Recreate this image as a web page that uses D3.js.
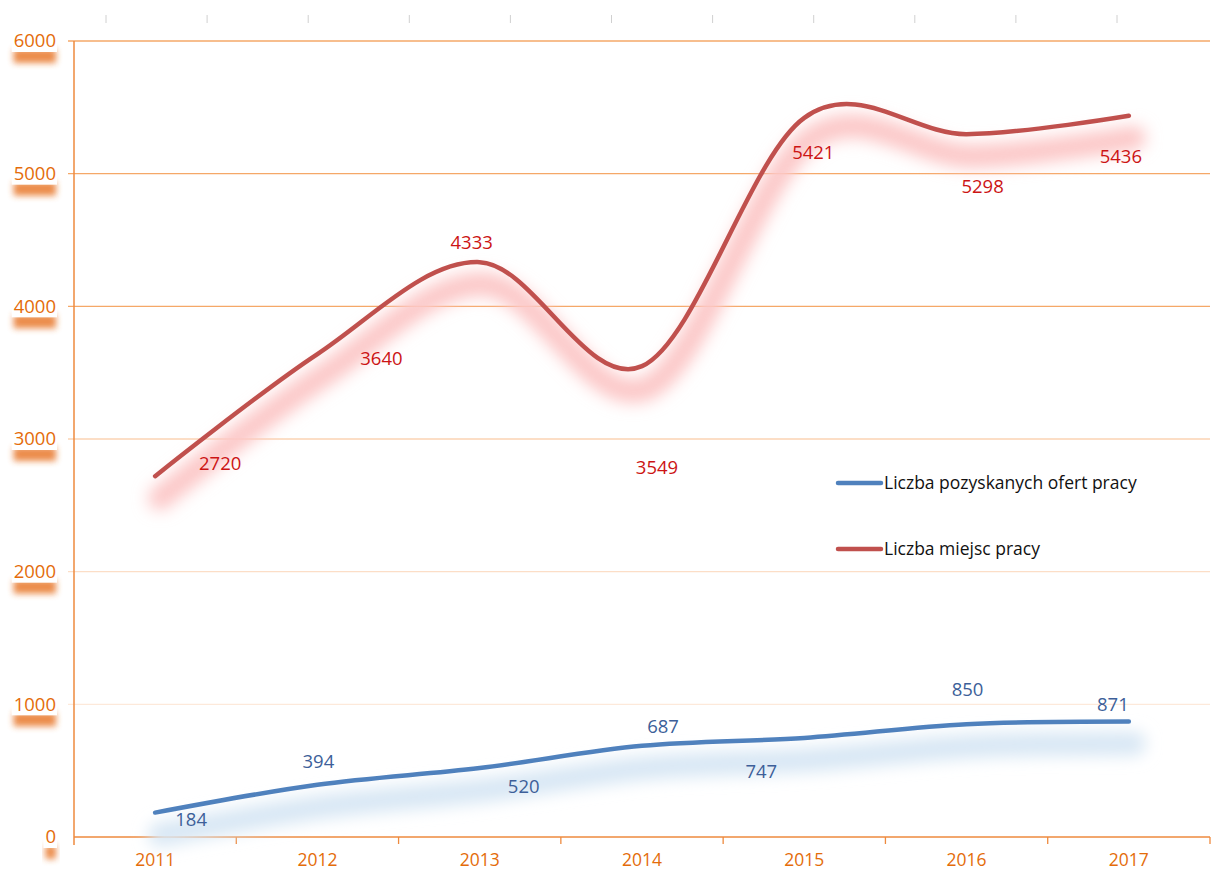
<!DOCTYPE html>
<html>
<head>
<meta charset="utf-8">
<script src="https://cdn.jsdelivr.net/npm/d3@7"></script>
<style>
  body { margin: 0; background: #fff; }
  text { font-family: "Open Sans", sans-serif; }
</style>
</head>
<body>
<svg id="chart" width="1211" height="877"></svg>
<script>
// dane
const years = ['2011', '2012', '2013', '2014', '2015', '2016', '2017'];
const ofertyPracy = [184, 394, 520, 687, 747, 850, 871];
const miejscaPracy = [2720, 3640, 4333, 3549, 5421, 5298, 5436];
const seriesNames = ['Liczba pozyskanych ofert pracy', 'Liczba miejsc pracy'];
const yTicks = [0, 1000, 2000, 3000, 4000, 5000, 6000];

// przesunięcia etykiet danych (w pikselach) względem punktu
const ofertyLabelShift = [[36, 7], [1, -23], [44, 19], [21, -19], [-43, 34], [1, -35], [-16, -17]];
const miejscaLabelShift = [[65, -13], [64, 4], [-8, -20], [15, 101], [9, 35], [16, 52], [-8, 41]];

const svg = d3.select('#chart');
const plotLeft = 74, plotRight = 1210, plotTop = 41, plotBottom = 837;

const xScale = d3.scaleBand().domain(years).range([plotLeft, plotRight]).padding(0);
const yScale = d3.scaleLinear().domain([0, 6000]).range([plotBottom, plotTop]);
const cx = (d, i) => xScale(years[i]) + xScale.bandwidth() / 2;

const defs = svg.append('defs');
defs.append('filter').attr('id', 'blurLine')
  .attr('x', '-10%').attr('y', '-50%').attr('width', '120%').attr('height', '200%')
  .append('feGaussianBlur').attr('stdDeviation', 8);
defs.append('filter').attr('id', 'blurLabel')
  .attr('x', '-30%').attr('y', '-100%').attr('width', '160%').attr('height', '300%')
  .append('feGaussianBlur').attr('stdDeviation', 3.2);

// szare kreski u góry (resztki innego wykresu)
const topTicks = d3.scaleLinear().domain([0, 10]).range([106, 1117]);
svg.append('g').selectAll('line')
  .data(d3.range(11))
  .join('line')
  .attr('x1', d => topTicks(d)).attr('x2', d => topTicks(d))
  .attr('y1', 15).attr('y2', 23)
  .attr('stroke', '#d0d0d0').attr('stroke-width', 1);

// linie siatki - jaśniejsze w dolnej części
const gridColor = d3.scaleLinear().domain([1000, 3000, 4000]).range(['#fde9da', '#fbd3b3', '#f5a868']).clamp(true);
svg.append('g').selectAll('line')
  .data(yTicks.filter(d => d > 0))
  .join('line')
  .attr('x1', plotLeft - 6).attr('x2', plotRight)
  .attr('y1', d => yScale(d)).attr('y2', d => yScale(d))
  .attr('stroke', d => gridColor(d)).attr('stroke-width', 1.3);

// oś Y
svg.append('line')
  .attr('x1', plotLeft).attr('x2', plotLeft).attr('y1', plotTop).attr('y2', plotBottom + 8)
  .attr('stroke', '#ee8a3e').attr('stroke-width', 1.5);

// oś X
const xAxis = svg.append('g')
  .attr('transform', `translate(0, ${plotBottom})`)
  .call(d3.axisBottom(xScale).tickSize(0).tickPadding(17));
xAxis.select('.domain').attr('stroke', '#ee8a3e').attr('stroke-width', 1.5)
  .attr('d', `M${plotLeft},0H${plotRight}`);
xAxis.selectAll('text').attr('fill', '#e46c0a').attr('font-size', 17.5);
xAxis.selectAll('.bound')
  .data(years)
  .join('line')
  .attr('class', 'bound')
  .attr('x1', d => xScale(d) + xScale.bandwidth())
  .attr('x2', d => xScale(d) + xScale.bandwidth())
  .attr('y1', 0).attr('y2', 7)
  .attr('stroke', '#ee8a3e').attr('stroke-width', 1.3);

// etykiety osi Y z pomarańczowym cieniem
const yLab = svg.append('g').selectAll('g')
  .data(yTicks)
  .join('g')
  .attr('transform', d => `translate(56, ${yScale(d)})`);
yLab.append('rect')
  .attr('x', d => -String(d).length * 10.6)
  .attr('y', 8).attr('height', 14)
  .attr('width', d => String(d).length * 10.6)
  .attr('fill', '#e8782a').attr('opacity', 0.85)
  .attr('filter', 'url(#blurLabel)');
yLab.append('rect')
  .attr('x', d => -String(d).length * 10.6 - 2)
  .attr('y', -12).attr('height', 23)
  .attr('width', d => String(d).length * 10.6 + 3)
  .attr('fill', '#fff');
yLab.append('text')
  .attr('text-anchor', 'end')
  .attr('dy', '0.35em')
  .attr('fill', '#e46c0a')
  .attr('font-size', 18.5)
  .text(d => d);

// linie wykresu
const line = d3.line()
  .x(cx)
  .y(d => yScale(d))
  .curve(d3.curveCatmullRom.alpha(0));

const series = [
  { values: ofertyPracy, color: '#4f81bd', shadow: '#d8e7f4', label: '#3d5f99', shift: ofertyLabelShift },
  { values: miejscaPracy, color: '#c0504d', shadow: '#fcc8c8', label: '#cc1414', shift: miejscaLabelShift }
];

series.forEach(s => {
  svg.append('path')
    .attr('d', line(s.values))
    .attr('transform', 'translate(5, 22)')
    .attr('fill', 'none')
    .attr('stroke', s.shadow)
    .attr('stroke-width', 24)
    .attr('stroke-linecap', 'round')
    .attr('filter', 'url(#blurLine)');
});

series.forEach(s => {
  svg.append('path')
    .attr('d', line(s.values))
    .attr('fill', 'none')
    .attr('stroke', s.color)
    .attr('stroke-width', 4.5)
    .attr('stroke-linecap', 'round');

  svg.append('g').selectAll('text')
    .data(s.values)
    .join('text')
    .attr('x', (d, i) => cx(d, i) + s.shift[i][0])
    .attr('y', (d, i) => yScale(d) + s.shift[i][1])
    .attr('dy', '0.35em')
    .attr('text-anchor', 'middle')
    .attr('fill', s.label)
    .attr('font-size', 18.5)
    .text(d => d);
});

// legenda
const legend = svg.append('g').attr('transform', 'translate(838, 483)');
const legendItems = legend.selectAll('g')
  .data(seriesNames)
  .join('g')
  .attr('transform', (d, i) => `translate(0, ${i * 66})`);
legendItems.append('line')
  .attr('x1', 0).attr('x2', 43)
  .attr('stroke', (d, i) => series[i].color)
  .attr('stroke-width', 4.5)
  .attr('stroke-linecap', 'round');
legendItems.append('text')
  .attr('x', 46)
  .attr('dy', '0.35em')
  .attr('fill', '#111')
  .attr('font-size', 17.5)
  .text(d => d);
</script>
</body>
</html>
